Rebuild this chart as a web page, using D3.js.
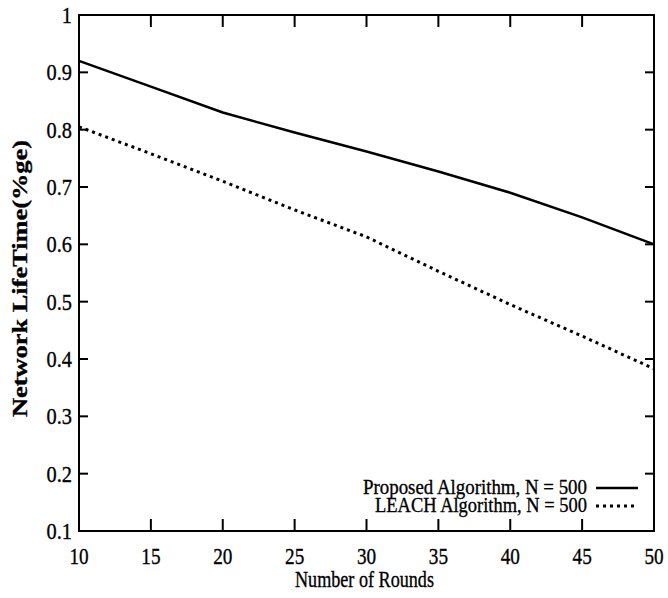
<!DOCTYPE html>
<html>
<head>
<meta charset="utf-8">
<script src="https://cdn.jsdelivr.net/npm/d3@7"></script>
<style>
  html, body { margin: 0; padding: 0; background: #fff; }
  svg { display: block; }
  text { font-family: "Liberation Serif", "DejaVu Serif", serif; fill: #000; stroke: #000; stroke-width: 0.35; }
</style>
</head>
<body>
<svg id="chart" width="668" height="598"></svg>
<script>
// ---- data ----
const rounds = [10, 15, 20, 25, 30, 35, 40, 45, 50];
const proposed = [0.92, 0.875, 0.83, 0.795, 0.762, 0.727, 0.69, 0.647, 0.60];
const leach = [0.805, 0.758, 0.71, 0.66, 0.613, 0.553, 0.495, 0.44, 0.383];
const xTicks = [10, 15, 20, 25, 30, 35, 40, 45, 50];
const yTicks = [0.1, 0.2, 0.3, 0.4, 0.5, 0.6, 0.7, 0.8, 0.9, 1];
const seriesNames = ["Proposed Algorithm, N = 500", "LEACH Algorithm, N = 500"];
const xLabel = "Number of Rounds";
const yLabel = "Network LifeTime(%ge)";

// ---- layout ----
const L = 79, R = 654, T = 15, B = 531;
const svg = d3.select("#chart");
const x = d3.scaleLinear().domain([10, 50]).range([L, R]);
const y = d3.scaleLinear().domain([0.1, 1]).range([B, T]);

// frame
svg.append("rect").attr("x", L).attr("y", T).attr("width", R - L).attr("height", B - T)
  .attr("fill", "none").attr("stroke", "#000").attr("stroke-width", 2);

// inward ticks (all four sides)
const xt = 12, yt = 9;
const tg = svg.append("g").attr("stroke", "#000").attr("stroke-width", 2);
xTicks.forEach(v => {
  if (v === 10 || v === 50) return;
  tg.append("line").attr("x1", x(v)).attr("x2", x(v)).attr("y1", B).attr("y2", B - xt);
  tg.append("line").attr("x1", x(v)).attr("x2", x(v)).attr("y1", T).attr("y2", T + xt);
});
yTicks.forEach(v => {
  if (v === 0.1 || v === 1) return;
  tg.append("line").attr("x1", L).attr("x2", L + yt).attr("y1", y(v)).attr("y2", y(v));
  tg.append("line").attr("x1", R).attr("x2", R - yt).attr("y1", y(v)).attr("y2", y(v));
});

// tick labels
const fmtY = d => (d === 1 ? "1" : d3.format(".1f")(d));
yTicks.forEach(v => {
  svg.append("text")
    .attr("transform", `translate(${72},${y(v) + 8}) scale(0.85,1)`)
    .attr("text-anchor", "end").attr("font-size", 24)
    .text(fmtY(v));
});
xTicks.forEach(v => {
  svg.append("text")
    .attr("transform", `translate(${x(v)},${564}) scale(0.8,1)`)
    .attr("text-anchor", "middle").attr("font-size", 24)
    .text(v);
});

// axis titles
svg.append("text")
  .attr("x", 295).attr("y", 587)
  .attr("font-size", 23)
  .attr("textLength", 139).attr("lengthAdjust", "spacingAndGlyphs")
  .text(xLabel);
svg.append("text")
  .attr("transform", `translate(${27},${417}) rotate(-90)`)
  .attr("font-size", 22).attr("font-weight", "bold")
  .attr("textLength", 277).attr("lengthAdjust", "spacingAndGlyphs")
  .text(yLabel);

// lines
const line = d3.line().x((d, i) => x(rounds[i])).y(d => y(d));
svg.append("path").datum(proposed).attr("d", line)
  .attr("fill", "none").attr("stroke", "#000").attr("stroke-width", 2.5);
svg.append("path").datum(leach).attr("d", line)
  .attr("fill", "none").attr("stroke", "#000").attr("stroke-width", 3)
  .attr("stroke-dasharray", "3,4");

// legend
const legY = [494, 512];
const legStart = [363, 375];
const styles = [{ dash: null, w: 2.5 }, { dash: "3,4", w: 3 }];
seriesNames.forEach((n, i) => {
  svg.append("text")
    .attr("x", legStart[i]).attr("y", legY[i])
    .attr("font-size", 22)
    .attr("textLength", 587 - legStart[i]).attr("lengthAdjust", "spacingAndGlyphs")
    .text(n);
  const ln = svg.append("line")
    .attr("x1", 596).attr("x2", 638)
    .attr("y1", legY[i] - 6).attr("y2", legY[i] - 6)
    .attr("stroke", "#000").attr("stroke-width", styles[i].w);
  if (styles[i].dash) ln.attr("stroke-dasharray", styles[i].dash);
});
</script>
</body>
</html>
